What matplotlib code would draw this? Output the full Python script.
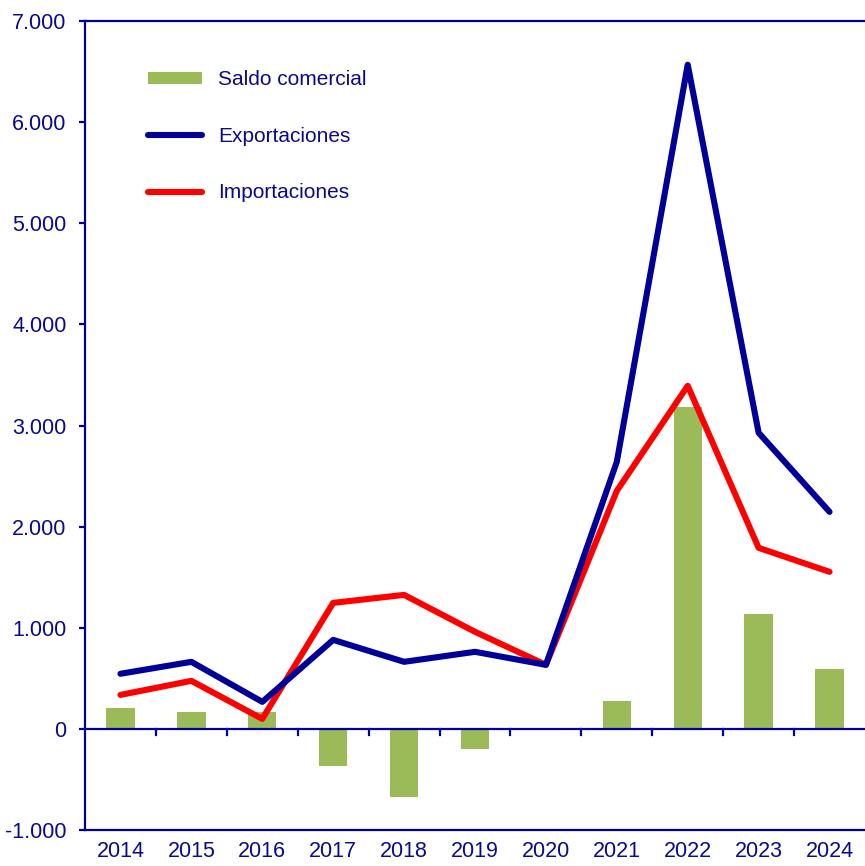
import numpy as np
import matplotlib as mpl
import matplotlib.pyplot as plt
from matplotlib.ticker import FuncFormatter, MultipleLocator

mpl.use('Agg')
plt.rcParams['font.family'] = ['Liberation Sans', 'DejaVu Sans']

years = ['2014', '2015', '2016', '2017', '2018', '2019', '2020',
         '2021', '2022', '2023', '2024']
exportaciones = [545, 663, 267, 880, 663, 762, 633, 2641, 6568, 2928, 2146]
importaciones = [336, 475, 99, 1246, 1325, 960, 633, 2354, 3393, 1790, 1553]
saldo = [208, 170, 168, -366, -670, -198, 5, 275, 3180, 1138, 590]

navy = '#000099'
txt = '#0A0A8C'

fig = plt.figure(figsize=(8.65, 8.66), dpi=100)
ax = fig.add_axes([85 / 865, 36 / 866, 780 / 865, 809 / 866])

x = np.arange(len(years))
bars = ax.bar(x, saldo, width=0.4, color='#9BBB59', label='Saldo comercial', zorder=2)
l1, = ax.plot(x, exportaciones, color=navy, lw=4.4, label='Exportaciones',
              solid_capstyle='round', solid_joinstyle='round', zorder=4)
l2, = ax.plot(x, importaciones, color='#FF0000', lw=4.4, label='Importaciones',
              solid_capstyle='round', solid_joinstyle='round', zorder=3)

# zero line with category separators
ax.axhline(0, color=navy, lw=1.6, zorder=3)
for b in np.arange(0.5, len(years) - 1, 1.0):
    ax.plot([b, b], [0, -65], color=navy, lw=1.6, zorder=3)

ax.set_xlim(-0.5, len(years) - 0.5)
ax.set_ylim(-1000, 7000)
ax.yaxis.set_major_locator(MultipleLocator(1000))
ax.yaxis.set_major_formatter(FuncFormatter(lambda v, p: f"{v:,.0f}".replace(",", ".")))
ax.set_xticks(x)
ax.set_xticklabels(years)

for s in ['left', 'top', 'bottom']:
    ax.spines[s].set_color(navy)
    ax.spines[s].set_linewidth(1.6)
ax.spines['right'].set_visible(False)

ax.tick_params(axis='y', colors=navy, labelcolor=txt, labelsize=15.5,
               length=4.3, width=1.6, pad=9)
ax.tick_params(axis='x', length=0, labelcolor=txt, labelsize=15.5, pad=8)

leg = ax.legend([bars, l1, l2], ['Saldo comercial', 'Exportaciones', 'Importaciones'],
                loc='upper left', bbox_to_anchor=(0.057, 0.962), frameon=False,
                fontsize=15, handlelength=2.6, handleheight=0.5,
                labelspacing=1.8, handletextpad=0.75)
for t in leg.get_texts():
    t.set_color(txt)

fig.savefig('out.png', dpi=100)
